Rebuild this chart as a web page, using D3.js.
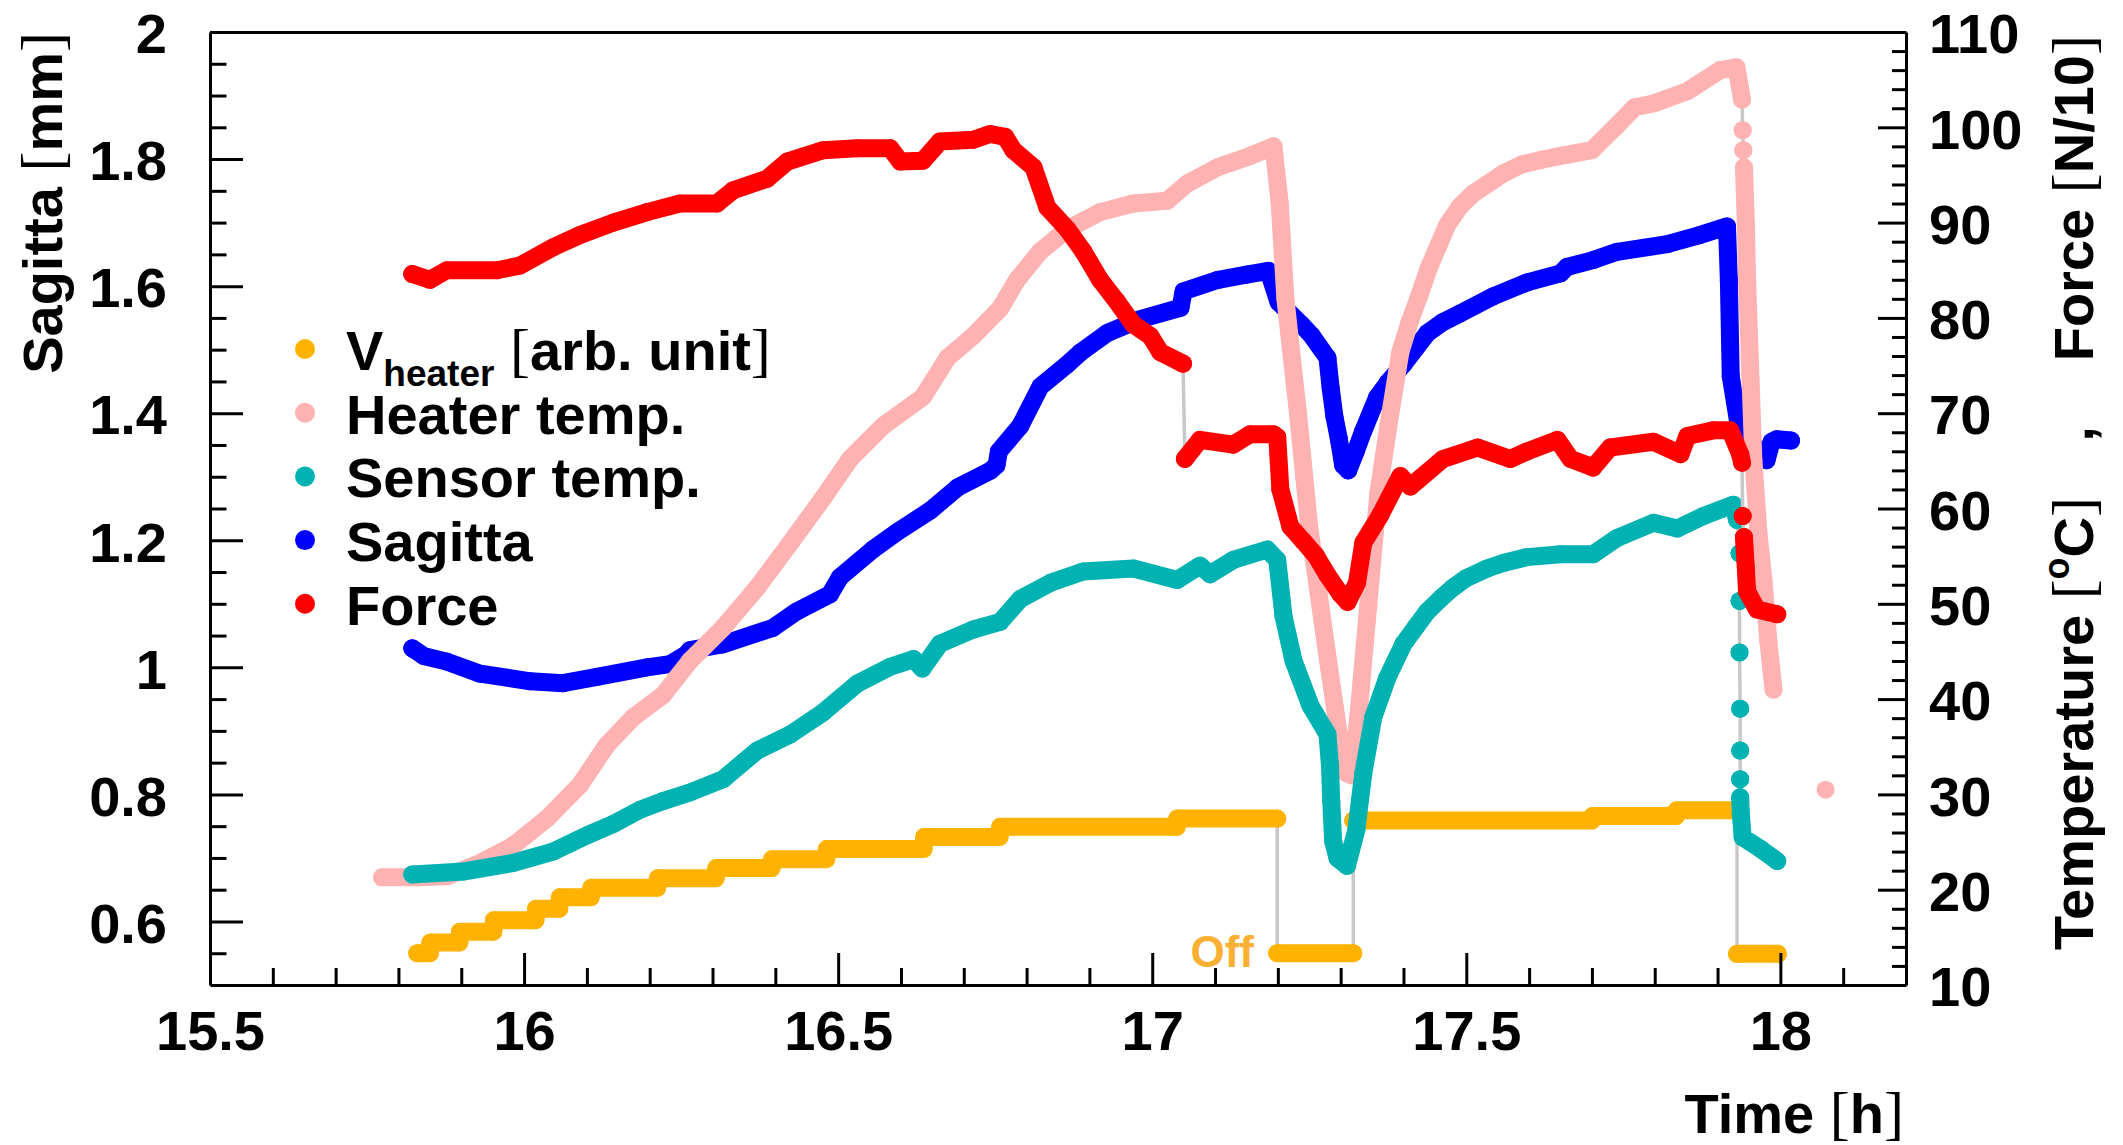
<!DOCTYPE html>
<html><head><meta charset="utf-8">
<script src="https://cdn.jsdelivr.net/npm/d3@7"></script>
<style>body{margin:0;background:#fff}</style>
</head><body>
<svg id="c" width="2123" height="1145"></svg>
<script>
// ---------------- DATA ----------------
const xMajorTicks = [15.5, 16, 16.5, 17, 17.5, 18];
const xTickLabels = ["15.5", "16", "16.5", "17", "17.5", "18"];
const leftMajorTicks = [0.6, 0.8, 1.0, 1.2, 1.4, 1.6, 1.8, 2.0];
const leftTickLabels = ["0.6", "0.8", "1", "1.2", "1.4", "1.6", "1.8", "2"];
const rightMajorTicks = [10, 20, 30, 40, 50, 60, 70, 80, 90, 100, 110];
const rightTickLabels = ["10", "20", "30", "40", "50", "60", "70", "80", "90", "100", "110"];

// [time (h), value]; null = break in the marker band
const vHeater = [
  [15.830,0.550],[15.850,0.550],[15.851,0.567],[15.897,0.567],[15.898,0.584],[15.951,0.584],
  [15.952,0.602],[16.018,0.602],[16.019,0.620],[16.056,0.620],[16.057,0.638],[16.106,0.638],
  [16.107,0.653],[16.212,0.653],[16.213,0.668],[16.305,0.668],[16.306,0.684],[16.394,0.684],
  [16.395,0.698],[16.481,0.698],[16.482,0.714],[16.636,0.714],[16.637,0.733],[16.757,0.733],
  [16.758,0.749],[17.039,0.749],[17.040,0.762],[17.199,0.762],
  null,
  [17.199,0.550],[17.320,0.550],
  null,
  [17.320,0.759],[17.700,0.759],[17.701,0.766],[17.834,0.766],[17.835,0.775],[17.931,0.775],
  null,
  [17.931,0.549],[17.996,0.549]
];

const sagitta = [
  [15.822,1.030],[15.840,1.018],[15.877,1.009],[15.930,0.990],[16.010,0.978],[16.062,0.975],
  [16.116,0.985],[16.196,1.000],[16.232,1.005],[16.258,1.020],[16.264,1.027],[16.316,1.036],
  [16.396,1.062],[16.434,1.088],[16.487,1.115],[16.503,1.142],[16.556,1.186],[16.594,1.213],
  [16.647,1.247],[16.690,1.283],[16.743,1.310],[16.752,1.318],[16.756,1.340],[16.790,1.380],
  [16.822,1.442],[16.865,1.477],[16.885,1.495],[16.928,1.526],[16.981,1.548],[17.045,1.566],
  [17.050,1.592],[17.105,1.610],[17.150,1.618],[17.185,1.624],[17.201,1.575],[17.238,1.539],
  [17.254,1.522],[17.279,1.487],[17.284,1.440],[17.290,1.395],[17.297,1.360],[17.304,1.318],
  [17.312,1.310],[17.324,1.340],[17.336,1.372],[17.358,1.425],[17.375,1.448],[17.400,1.477],
  [17.420,1.503],[17.438,1.526],[17.462,1.543],[17.490,1.557],[17.543,1.584],[17.597,1.606],
  [17.650,1.620],[17.660,1.630],[17.702,1.641],[17.740,1.654],[17.820,1.666],[17.870,1.680],
  [17.915,1.694],[17.918,1.609],[17.921,1.458],[17.935,1.373],[17.962,1.345],[17.978,1.326],
  [17.986,1.355],[17.994,1.359],[18.017,1.357]
];

const heaterTemp = [
  [15.774,21.3],[15.830,21.3],[15.877,21.4],[15.930,22.8],[15.982,24.6],[16.037,27.5],
  [16.089,31.0],[16.132,35.2],[16.174,38.1],[16.221,40.4],[16.264,44.0],[16.317,47.5],
  [16.371,51.7],[16.424,56.4],[16.476,61.1],[16.519,65.2],[16.572,68.7],[16.635,71.7],
  [16.674,75.8],[16.715,78.1],[16.758,81.0],[16.785,84.0],[16.822,87.0],[16.865,89.3],
  [16.917,91.1],[16.970,92.0],[17.024,92.3],[17.056,94.1],[17.104,95.8],[17.156,97.0],
  [17.193,98.0],[17.203,92.0],[17.212,82.0],[17.232,70.0],[17.250,58.0],[17.280,44.0],
  [17.300,35.0],[17.310,32.2],[17.318,32.0],[17.328,38.1],[17.344,49.9],[17.360,61.6],
  [17.376,68.7],[17.395,76.4],[17.410,79.6],[17.425,82.3],[17.440,85.2],[17.455,87.5],
  [17.470,89.8],[17.490,91.7],[17.510,93.0],[17.535,94.1],[17.560,95.2],[17.588,96.1],
  [17.620,96.6],[17.650,97.0],[17.700,97.6],[17.740,100.2],[17.768,102.1],[17.798,102.5],
  [17.852,103.8],[17.904,106.0],[17.930,106.3],[17.939,102.9],
  null, [17.940,99.7], null, [17.941,97.6], null,
  [17.942,95.8],[17.945,90.0],[17.947,84.0],[17.957,65.1],[17.965,57.5],[17.973,52.5],
  [17.981,46.0],[17.989,41.0]
];
// lone late reading, not joined to the rest
const heaterTempLate = [[18.072,30.5]];

const sensorTemp = [
  [15.822,21.6],[15.903,21.9],[15.982,22.8],[16.046,24.0],[16.100,25.7],[16.142,26.9],
  [16.185,28.4],[16.221,29.3],[16.264,30.2],[16.317,31.6],[16.371,34.6],[16.424,36.3],
  [16.476,38.6],[16.530,41.6],[16.583,43.4],[16.620,44.2],[16.634,43.2],[16.662,45.8],
  [16.715,47.3],[16.758,48.1],[16.790,50.5],[16.838,52.2],[16.890,53.4],[16.970,53.7],
  [17.040,52.5],[17.076,54.0],[17.092,53.1],[17.129,54.6],[17.183,55.7],[17.199,54.6],
  [17.209,48.7],[17.225,44.0],[17.252,39.3],[17.279,36.3],[17.283,33.0],[17.285,29.3],
  [17.288,25.1],[17.295,23.3],[17.310,22.5],[17.325,26.3],[17.336,32.2],[17.352,38.1],
  [17.374,42.2],[17.400,45.8],[17.420,47.6],[17.438,49.2],[17.460,50.6],[17.479,51.7],
  [17.500,52.7],[17.533,53.7],[17.560,54.3],[17.597,54.9],[17.650,55.2],[17.702,55.2],
  [17.740,56.9],[17.798,58.5],[17.836,57.9],[17.877,59.2],[17.925,60.4],[17.931,58.8],
  null,[17.935,55.3],null,[17.935,50.3],null,[17.935,44.9],null,[17.936,39.0],null,
  [17.936,34.6],null,[17.936,31.6],null,
  [17.936,29.7],[17.937,28.0],[17.940,25.5],[17.968,24.3],[17.989,23.3],[17.995,23.0]
];

const force = [
  [15.822,84.6],[15.850,84.0],[15.877,85.0],[15.957,85.0],[15.994,85.5],[16.046,87.4],
  [16.089,88.7],[16.142,90.0],[16.196,91.1],[16.248,92.0],[16.307,92.0],[16.333,93.4],
  [16.387,94.6],[16.419,96.4],[16.476,97.6],[16.530,97.8],[16.583,97.8],[16.599,96.4],
  [16.635,96.5],[16.662,98.5],[16.715,98.7],[16.742,99.3],[16.766,99.0],[16.779,97.6],
  [16.811,95.8],[16.833,91.6],[16.865,89.3],[16.890,87.0],[16.917,84.0],[16.944,81.7],
  [16.970,79.3],[16.997,78.1],[17.013,76.4],[17.049,75.2],
  null,
  [17.052,65.2],[17.076,67.2],[17.129,66.7],[17.156,67.8],[17.193,67.8],[17.199,67.5],
  [17.204,62.0],[17.220,58.1],[17.240,56.6],[17.260,55.1],[17.279,53.0],[17.300,51.0],
  [17.311,50.2],[17.326,52.2],[17.336,56.4],[17.363,59.3],[17.395,63.4],[17.411,62.3],
  [17.463,65.2],[17.518,66.4],[17.570,65.2],[17.597,66.0],[17.645,67.2],[17.666,65.2],
  [17.702,64.3],[17.729,66.4],[17.798,67.0],[17.841,65.7],[17.852,67.6],[17.893,68.2],
  [17.920,68.2],[17.936,65.7],[17.939,64.8],
  null,[17.940,59.2],null,
  [17.942,57.0],[17.945,53.8],[17.947,51.3],[17.963,49.4],[17.995,48.9]
];

const seriesNames = ["V_heater", "Heater temp.", "Sensor temp.", "Sagitta", "Force"];
const seriesColors = { vh: "#FFB200", ht: "#FFB2B2", st: "#00B2B2", sg: "#0000FF", fo: "#FF0000" };

// ---------------- CHART ----------------
const FONT = "'Liberation Sans', Arial, Helvetica, sans-serif";
const SERIF = "'Liberation Serif', 'Times New Roman', serif";
const L = 210, R = 1906, T = 32, B = 985;
const svg = d3.select("#c");

const x = d3.scaleLinear().domain([15.5, 18.2]).range([L, R]);
const yL = d3.scaleLinear().domain([0.5, 2.0]).range([B, T]);
const yR = d3.scaleLinear().domain([10, 110]).range([B, T]);

const MR = 9;     // marker radius
const gLines = svg.append("g");

function drawSeries(data, y, color) {
  const g = gLines.append("g");
  const pts = data.filter(d => d);
  if (pts.length > 1) {
    g.append("path")
      .attr("d", d3.line().x(d => x(d[0])).y(d => y(d[1]))(pts))
      .attr("fill", "none").attr("stroke", "#c8c8c8").attr("stroke-width", 3.5);
    g.append("path")
      .attr("d", d3.line().defined(d => d).x(d => x(d[0])).y(d => y(d[1]))(data))
      .attr("fill", "none").attr("stroke", color).attr("stroke-width", 2 * MR)
      .attr("stroke-linecap", "round").attr("stroke-linejoin", "round");
  }
  g.selectAll("circle").data(pts).join("circle")
    .attr("cx", d => x(d[0])).attr("cy", d => y(d[1])).attr("r", MR).attr("fill", color);
}

drawSeries(vHeater, yL, seriesColors.vh);
drawSeries(sagitta, yL, seriesColors.sg);
drawSeries(heaterTemp, yR, seriesColors.ht);
drawSeries(heaterTempLate, yR, seriesColors.ht);
drawSeries(sensorTemp, yR, seriesColors.st);
drawSeries(force, yR, seriesColors.fo);

// "Off" label
svg.append("text").attr("x", 1254).attr("y", 967).attr("text-anchor", "end")
  .attr("font-family", FONT).attr("font-weight", "bold").attr("font-size", 44)
  .attr("fill", "#FBB034").text("Off");

// ---------------- AXES ----------------
function styleAxis(g) {
  g.selectAll("line").attr("stroke", "#000").attr("stroke-width", 3);
  g.selectAll("path.domain").attr("stroke", "#000").attr("stroke-width", 3);
  g.selectAll("text").attr("font-family", FONT).attr("font-weight", "bold")
    .attr("font-size", 56).attr("fill", "#000");
}
const xMinor = d3.range(15.6, 18.15, 0.1).filter(v => Math.abs(v * 2 - Math.round(v * 2)) > 1e-6);
const leftMinor = d3.range(0.55, 2.0, 0.05).filter(v => Math.abs(v * 5 - Math.round(v * 5)) > 1e-6);
const rightMinor = d3.range(12, 110, 2).filter(v => v % 10 !== 0);

svg.append("g").attr("transform", `translate(0,${T})`)
  .call(d3.axisTop(x).tickValues([]).tickSizeOuter(0)).call(styleAxis);

svg.append("g").attr("transform", `translate(0,${B})`)
  .call(d3.axisTop(x).tickValues(xMajorTicks).tickSize(32).tickSizeOuter(0).tickFormat(""))
  .call(styleAxis);
svg.append("g").attr("transform", `translate(0,${B})`)
  .call(d3.axisTop(x).tickValues(xMinor).tickSize(17).tickSizeOuter(0).tickFormat(""))
  .call(styleAxis).call(g => g.select(".domain").remove());
svg.append("g").attr("transform", `translate(0,${B})`)
  .call(d3.axisBottom(x).tickValues(xMajorTicks).tickSize(0).tickPadding(25)
    .tickFormat((d, i) => xTickLabels[i]))
  .call(styleAxis).call(g => g.select(".domain").remove());

svg.append("g").attr("transform", `translate(${L},0)`)
  .call(d3.axisRight(yL).tickValues(leftMajorTicks).tickSize(33).tickSizeOuter(0).tickFormat(""))
  .call(styleAxis);
svg.append("g").attr("transform", `translate(${L},0)`)
  .call(d3.axisRight(yL).tickValues(leftMinor).tickSize(16.5).tickSizeOuter(0).tickFormat(""))
  .call(styleAxis).call(g => g.select(".domain").remove());
svg.append("g").attr("transform", `translate(${L},0)`)
  .call(d3.axisLeft(yL).tickValues(leftMajorTicks).tickSize(0).tickPadding(43)
    .tickFormat((d, i) => leftTickLabels[i]))
  .call(styleAxis).call(g => g.select(".domain").remove())
  .call(g => g.selectAll("text").attr("dy", "0.37em"));

svg.append("g").attr("transform", `translate(${R},0)`)
  .call(d3.axisLeft(yR).tickValues(rightMajorTicks).tickSize(28).tickSizeOuter(0).tickFormat(""))
  .call(styleAxis);
svg.append("g").attr("transform", `translate(${R},0)`)
  .call(d3.axisLeft(yR).tickValues(rightMinor).tickSize(14).tickSizeOuter(0).tickFormat(""))
  .call(styleAxis).call(g => g.select(".domain").remove());
svg.append("g").attr("transform", `translate(${R},0)`)
  .call(d3.axisRight(yR).tickValues(rightMajorTicks).tickSize(0).tickPadding(23)
    .tickFormat((d, i) => rightTickLabels[i]))
  .call(styleAxis).call(g => g.select(".domain").remove())
  .call(g => g.selectAll("text").attr("dy", "0.37em"));

// ---------------- TITLES ----------------
function boldText(sel) {
  return sel.attr("font-family", FONT).attr("font-weight", "bold").attr("font-size", 56).attr("fill", "#000");
}
function bracket(t, ch) {
  t.append("tspan").attr("font-family", SERIF).attr("font-weight", "normal").attr("font-size", 60).text(ch);
}

const xt = boldText(svg.append("text")).attr("x", 1904).attr("y", 1133).attr("text-anchor", "end");
xt.append("tspan").text("Time ");
bracket(xt, "["); xt.append("tspan").text("h"); bracket(xt, "]");

const lt = boldText(svg.append("text")).attr("transform", "translate(62,32) rotate(-90)").attr("text-anchor", "end");
lt.append("tspan").text("Sagitta ");
bracket(lt, "["); lt.append("tspan").text("mm"); bracket(lt, "]");

const rtA = boldText(svg.append("text")).attr("transform", "translate(2093,950) rotate(-90)");
rtA.append("tspan").text("Temperature ");
bracket(rtA, "[");
rtA.append("tspan").attr("font-size", 36).attr("dy", -24).text("o");
rtA.append("tspan").attr("dy", 24).text("C");
bracket(rtA, "]");
boldText(svg.append("text")).attr("transform", "translate(2093,434) rotate(-90)")
  .attr("text-anchor", "middle").text(",");
const rtB = boldText(svg.append("text")).attr("transform", "translate(2093,35) rotate(-90)").attr("text-anchor", "end");
rtB.append("tspan").text("Force ");
bracket(rtB, "["); rtB.append("tspan").text("N/10"); bracket(rtB, "]");

// ---------------- LEGEND ----------------
const legendColors = [seriesColors.vh, seriesColors.ht, seriesColors.st, seriesColors.sg, seriesColors.fo];
const legX = 305, legTextX = 346, legBase0 = 370, legStep = 63.7;
legendColors.forEach((c, i) => {
  const yb = legBase0 + i * legStep;
  svg.append("circle").attr("cx", legX).attr("cy", yb - 21).attr("r", 10).attr("fill", c);
  const t = boldText(svg.append("text")).attr("x", legTextX).attr("y", yb);
  if (i === 0) {
    t.append("tspan").text("V");
    t.append("tspan").attr("font-size", 37).attr("dy", 16).text("heater");
    t.append("tspan").attr("dy", -16).text(" ");
    bracket(t, "[");
    t.append("tspan").text("arb. unit");
    bracket(t, "]");
  } else {
    t.text(seriesNames[i]);
  }
});
</script>
</body></html>
